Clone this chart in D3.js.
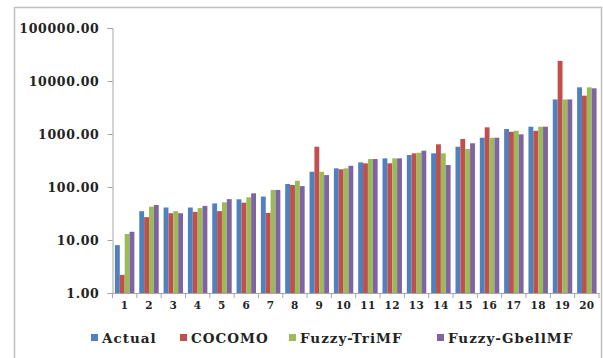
<!DOCTYPE html>
<html><head><meta charset="utf-8">
<script src="https://cdn.jsdelivr.net/npm/d3@7"></script>
<style>html,body{margin:0;padding:0;background:#fff;}svg{display:block;}</style>
</head><body>
<script>
const categories = ["1","2","3","4","5","6","7","8","9","10","11","12","13","14","15","16","17","18","19","20"];
const seriesNames = ["Actual","COCOMO","Fuzzy-TriMF","Fuzzy-GbellMF"];
const actual   = [8.0, 35, 41, 41, 49, 58.6, 66, 114, 194, 225, 292, 347, 401, 432, 576, 851, 1242, 1373, 4490, 7600];
const cocomo   = [2.2, 27, 32, 34, 35, 50.6, 32.5, 109, 576, 216, 280, 280, 432, 640, 805, 1337, 1100, 1150, 24000, 5290];
const triMF    = [13, 42.6, 35, 40, 51.5, 64, 88, 131, 194, 225, 337, 347, 443, 432, 521, 851, 1150, 1373, 4490, 7600];
const gbellMF  = [14.3, 45.7, 32, 44, 59, 76, 88, 104, 168, 251, 337, 347, 484, 260, 668, 851, 986, 1373, 4490, 7280];
const yTicks = [1, 10, 100, 1000, 10000, 100000];
const colors = ["#4F81BD","#C0504D","#9BBB59","#8064A2"];
const seriesValues = [actual, cocomo, triMF, gbellMF];

(function(){
const W = 603, H = 358;
const svg = d3.select("body").append("svg").attr("width", W).attr("height", H);
svg.append("rect").attr("x", 14.5).attr("y", 7.5).attr("width", 587).attr("height", 360)
  .attr("fill", "#fff").attr("stroke", "#bfbfbf").attr("stroke-width", 1.5);

const pLeft = 112.5, pRight = 599, pTop = 28, pBottom = 293;
const y = d3.scaleLog().domain([1, 100000]).range([pBottom, pTop]);
const x0 = d3.scaleBand().domain(categories).range([pLeft, pRight]).padding(0);
const x1 = d3.scaleBand().domain(seriesNames).range([0, x0.bandwidth()]).paddingInner(0).paddingOuter(0.5);

const g = svg.append("g");
categories.forEach((c, i) => {
  seriesNames.forEach((s, j) => {
    const v = seriesValues[j][i];
    g.append("rect")
      .attr("x", x0(c) + x1(s))
      .attr("y", y(v))
      .attr("width", x1.bandwidth())
      .attr("height", pBottom - y(v))
      .attr("fill", colors[j]);
  });
});

const yAxis = d3.axisLeft(y).tickValues(yTicks).tickFormat(d3.format(".2f")).tickSizeOuter(0).tickSize(5).tickPadding(8);
const ya = svg.append("g").attr("transform", `translate(${pLeft},0)`).call(yAxis);
ya.select(".domain").attr("stroke", "#a6a6a6");
ya.selectAll(".tick line").attr("stroke", "#a6a6a6");
ya.selectAll("text").attr("font-family", "'DejaVu Serif', serif").attr("font-weight", "bold")
  .attr("font-size", "12.5px").attr("letter-spacing", "0.7px").attr("fill", "#222");

const xAxis = d3.axisBottom(x0).tickSize(0).tickPadding(9).tickSizeOuter(0);
const xa = svg.append("g").attr("transform", `translate(0,${pBottom})`).call(xAxis);
xa.select(".domain").attr("stroke", "#a6a6a6");
xa.selectAll("text").attr("font-family", "'DejaVu Serif', serif").attr("font-weight", "bold")
  .attr("font-size", "10.5px").attr("letter-spacing", "0.4px").attr("fill", "#222");
xa.selectAll(".bt").data(categories.concat(["end"])).enter().append("line")
  .attr("x1", (d, i) => pLeft + i * x0.step()).attr("x2", (d, i) => pLeft + i * x0.step())
  .attr("y1", 0).attr("y2", 5).attr("stroke", "#a6a6a6");

const legendX = [91, 180, 289, 437];
const lg = svg.append("g");
seriesNames.forEach((s, j) => {
  lg.append("rect").attr("x", legendX[j]).attr("y", 334).attr("width", 7).attr("height", 7).attr("fill", colors[j]);
  lg.append("text").attr("x", legendX[j] + 11).attr("y", 342.5).text(s)
    .attr("font-family", "'DejaVu Serif', serif").attr("font-weight", "bold")
    .attr("font-size", "13.5px").attr("letter-spacing", "1px").attr("fill", "#222");
});
})();
</script>
</body></html>
